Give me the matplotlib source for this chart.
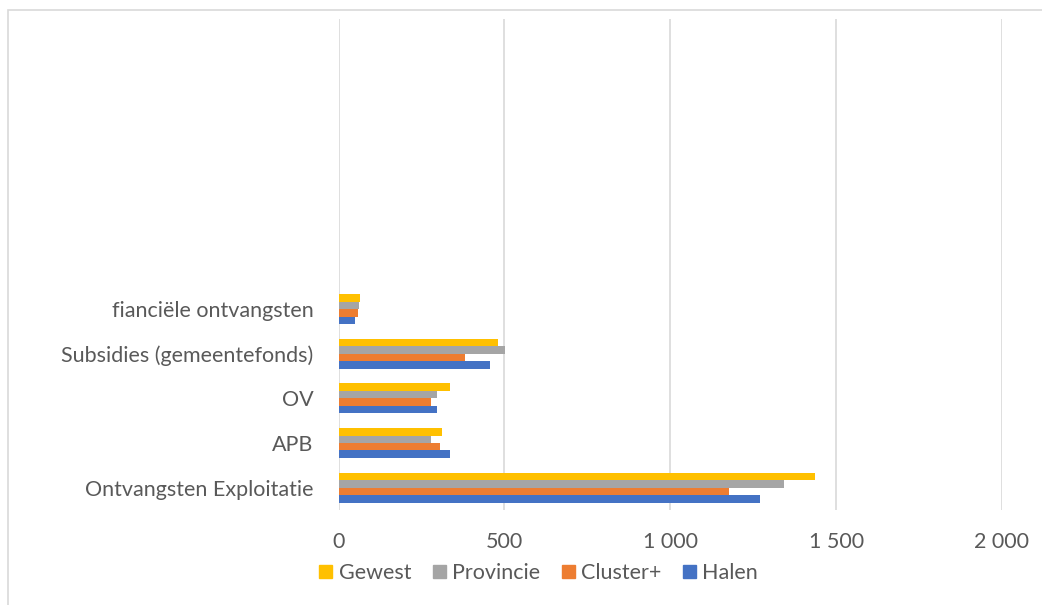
import numpy as np
import matplotlib.pyplot as plt
from matplotlib.patches import Rectangle, Patch
from matplotlib.ticker import FuncFormatter

plt.rcParams['font.family'] = ['Lato', 'DejaVu Sans']

categories = ['Ontvangsten Exploitatie', 'APB', 'OV', 'Subsidies (gemeentefonds)',
              'fianciële ontvangsten']
halen = [1269, 335, 296, 455, 50]
cluster = [1178, 306, 277, 381, 58]
provincie = [1344, 277, 296, 502, 62]
gewest = [1435, 311, 336, 479, 63]

series = [('Halen', halen, '#4472C4'),
          ('Cluster+', cluster, '#ED7D31'),
          ('Provincie', provincie, '#A5A5A5'),
          ('Gewest', gewest, '#FFC000')]

fig = plt.figure(figsize=(10.42, 6.05), dpi=100)
ax = fig.add_axes([0.325, 0.157, 0.6366, 0.8117])

y = np.arange(len(categories))
h = 0.667 / 4
for i, (name, vals, col) in enumerate(series):
    ax.barh(y - 0.333 + h * (i + 0.5), vals, height=h, color=col, label=name, zorder=3)

ax.set_xlim(0, 2000)
ax.set_ylim(-0.5, 10.5)
ax.set_xticks([0, 500, 1000, 1500, 2000])
ax.xaxis.set_major_formatter(FuncFormatter(lambda v, p: f'{int(v):,}'.replace(',', ' ')))
ax.set_yticks(y)
ax.set_yticklabels(categories)
ax.grid(axis='x', color='#D9D9D9', linewidth=1.2, zorder=0)
for s in ax.spines.values():
    s.set_visible(False)
ax.tick_params(axis='both', length=0, labelsize=15.5, colors='#595959')
ax.tick_params(axis='x', pad=16)
ax.tick_params(axis='y', pad=18)

handles = [Patch(color=c, label=n) for n, _, c in series[::-1]]
fig.legend(handles=handles, loc='center', bbox_to_anchor=(0.517, 1 - 573 / 605), ncol=4,
           frameon=False, fontsize=15.5, handlelength=0.6, handleheight=0.6,
           handletextpad=0.3, columnspacing=1.0, labelcolor='#595959')

fig.patches.append(Rectangle((8 / 1042, -0.1), 1.2, 1 - 10 / 605 + 0.1, transform=fig.transFigure,
                             fill=False, edgecolor='#D9D9D9', linewidth=1.2))

fig.savefig('out.png', dpi=100)
